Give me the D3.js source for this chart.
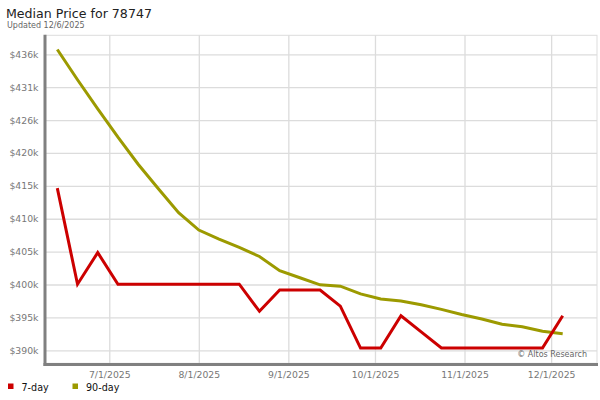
<!DOCTYPE html>
<html>
<head>
<meta charset="utf-8">
<script src="https://cdn.jsdelivr.net/npm/d3@7"></script>
<style>
  html, body { margin: 0; padding: 0; background: #fff; }
  svg { display: block; font-family: "DejaVu Sans", sans-serif; }
</style>
</head>
<body>
<svg id="chart" width="600" height="400"></svg>
<script>
// ---- data ----
const dates = ["2025-06-13","2025-06-20","2025-06-27","2025-07-04","2025-07-11","2025-07-18","2025-07-25",
  "2025-08-01","2025-08-08","2025-08-15","2025-08-22","2025-08-29","2025-09-05","2025-09-12","2025-09-19",
  "2025-09-26","2025-10-03","2025-10-10","2025-10-17","2025-10-24","2025-10-31","2025-11-07","2025-11-14",
  "2025-11-21","2025-11-28","2025-12-05"];
const sevenDay = [415000,400100,405000,400100,400100,400100,400100,400100,400100,400100,395900,399200,399200,399200,
  396700,390200,390200,395200,392700,390200,390200,390200,390200,390200,390200,395200];
const ninetyDay = [436500,431800,427300,422900,418700,414900,411200,408500,407100,405800,404400,402200,401100,400000,
  399800,398600,397800,397500,396900,396200,395400,394700,393900,393500,392800,392400];
const yTickValues = [389850,394950,400050,405150,410250,415350,420450,425550,430650,435750];
const yTickLabels = ["$390k","$395k","$400k","$405k","$410k","$415k","$420k","$426k","$431k","$436k"];
const xTickDates = ["2025-07-01","2025-08-01","2025-09-01","2025-10-01","2025-11-01","2025-12-01"];
const xTickLabels = ["7/1/2025","8/1/2025","9/1/2025","10/1/2025","11/1/2025","12/1/2025"];
const seriesNames = ["7-day","90-day"];
const seriesColors = ["#cc0000","#9c9a00"];

// ---- layout ----
const svg = d3.select("#chart");
const parse = d3.utcParse("%Y-%m-%d");
const plotL = 45.5, plotR = 597, plotT = 35.3, plotB = 363.3;

const x = d3.scaleUtc()
  .domain([parse(dates[0]), parse(dates[dates.length - 1])])
  .range([57.3, 562.7]);
const y = d3.scaleLinear().domain([387834, 438696]).range([plotB, plotT]);

// Title
svg.append("text").attr("x", 6).attr("y", 18)
  .attr("font-size", "12.6px").attr("fill", "#222").text("Median Price for 78747");
svg.append("text").attr("x", 7).attr("y", 28)
  .attr("font-size", "8px").attr("fill", "#666").text("Updated 12/6/2025");

// plot background border
svg.append("rect").attr("x", plotL).attr("y", plotT)
  .attr("width", plotR - plotL).attr("height", plotB - plotT)
  .attr("fill", "#fff").attr("stroke", "#ddd").attr("stroke-width", 1);

// horizontal grid
const yAxis = d3.axisLeft(y).tickValues(yTickValues)
  .tickFormat((d, i) => yTickLabels[i]).tickSize(-(plotR - plotL)).tickPadding(7);
const gy = svg.append("g").attr("transform", `translate(${plotL},0)`).call(yAxis);
gy.select(".domain").remove();
gy.selectAll(".tick line").attr("stroke", "#dcdcdc").attr("stroke-width", 1.3);
gy.selectAll(".tick text").attr("fill", "#777").attr("font-size", "9.3px")
  .attr("font-family", "DejaVu Sans, sans-serif").attr("x", -7);

// vertical grid
const xTicks = xTickDates.map(parse);
const xAxis = d3.axisBottom(x).tickValues(xTicks)
  .tickFormat((d, i) => xTickLabels[i]).tickSize(-(plotB - plotT)).tickPadding(6);
const gx = svg.append("g").attr("transform", `translate(0,${plotB})`).call(xAxis);
gx.select(".domain").remove();
gx.selectAll(".tick line").attr("stroke", "#dcdcdc").attr("stroke-width", 1.3);
gx.selectAll(".tick text").attr("fill", "#777").attr("font-size", "9.3px")
  .attr("font-family", "DejaVu Sans, sans-serif").attr("dy", "0.9em");

// axes (thick gray)
svg.append("line").attr("x1", plotL - 0.5).attr("x2", plotL - 0.5).attr("y1", plotT - 0.5).attr("y2", plotB + 2.7)
  .attr("stroke", "#808080").attr("stroke-width", 3);
svg.append("line").attr("x1", plotL - 2).attr("x2", plotR + 1).attr("y1", plotB + 1.3).attr("y2", plotB + 1.3)
  .attr("stroke", "#808080").attr("stroke-width", 3);

// watermark
svg.append("text").attr("x", 587).attr("y", 357).attr("text-anchor", "end")
  .attr("font-size", "8px").attr("fill", "#666").text("\u00a9 Altos Research");

// lines
const series = [sevenDay, ninetyDay];
const lineGen = d3.line().x((d, i) => x(parse(dates[i]))).y(d => y(d));
// draw 90-day first, 7-day on top
[1, 0].forEach(k => {
  svg.append("path").datum(series[k])
    .attr("d", lineGen)
    .attr("fill", "none").attr("stroke", seriesColors[k])
    .attr("stroke-width", 3).attr("stroke-linejoin", "miter");
});

// legend
const legendX = [8, 72.5];
seriesNames.forEach((name, i) => {
  svg.append("rect").attr("x", legendX[i]).attr("y", 383.5).attr("width", 5.5).attr("height", 5.5)
    .attr("fill", seriesColors[i]);
  svg.append("text").attr("x", legendX[i] + 13.5).attr("y", 390.5)
    .attr("font-size", "9.6px").attr("fill", "#111").text(name);
});
</script>
</body>
</html>
